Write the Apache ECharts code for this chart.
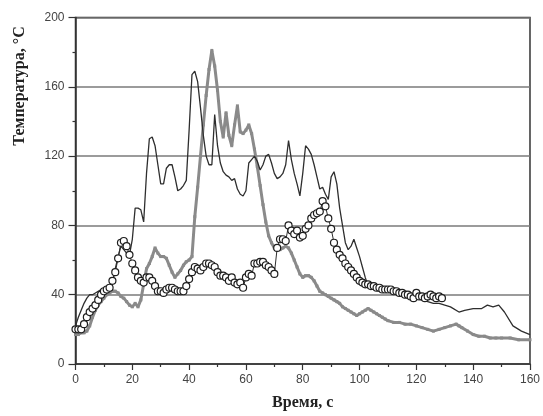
<!DOCTYPE html>
<html><head><meta charset="utf-8">
<script src="https://cdn.jsdelivr.net/npm/echarts@6/dist/echarts.min.js"></script>
<style>html,body{margin:0;padding:0;background:#fff}#c{width:543px;height:416px}</style>
</head><body><div id="c"></div>
<script>
// X tick labels and Y tick labels
const xTicks = [0,20,40,60,80,100,120,140,160];
const yTicks = [0,40,80,120,160,200];

// Series 1: thin black line
const blackT = [0,1,2,3,4,5,6,7,8,9,10,11,12,13,14,15,16,17,18,19,20,21,22,23,24,25,26,27,28,29,30,31,32,33,34,35,36,37,38,39,40,41,42,43,44,45,46,47,48,49,50,51,52,53,54,55,56,57,58,59,60,61,62,63,64,65,66,67,68,69,70,71,72,73,74,75,76,77,78,79,80,81,82,83,84,85,86,87,88,89,90,91,92,93,94,95,96,97,98,99,100,101,102,103,104,105,108,110,112,115,118,120,122,124,126,128,130,132,135,137,140,143,145,147,149,151,154,157,160];
const blackV = [22,27,31,35,38,40,40,41,42,43,43,44,44,47,55,62,68,66,64,63,72,90,90,89,82,110,130,131,126,115,104,104,113,115,115,108,100,101,103,106,135,167,169,163,148,132,120,115,115,144,126,116,111,109,108,106,107,101,98,97,100,116,118,120,117,112,115,120,121,116,110,107,108,110,115,129,118,110,104,97,110,126,124,121,115,108,101,102,98,95,108,111,104,90,80,70,66,68,72,67,62,56,50,45,44,44,43,43,42,41,39,38,37,36,35,35,34,33,30,31,32,32,34,33,34,30,22,19,17];

// Series 2: thick grey line
const greyT = [0,1,2,3,4,5,6,7,8,9,10,11,12,13,14,15,16,17,18,19,20,21,22,23,24,25,26,27,28,29,30,31,32,33,34,35,36,37,38,39,40,41,42,43,44,45,46,47,48,49,50,51,52,53,54,55,56,57,58,59,60,61,62,63,64,65,66,67,68,69,70,71,72,73,74,75,76,77,78,79,80,81,82,83,84,85,86,87,88,89,90,91,92,93,94,95,96,97,98,99,100,101,102,103,104,105,106,107,108,109,110,112,114,116,118,120,122,124,126,128,130,132,134,135,136,138,140,142,144,146,148,150,153,156,160];
const greyV = [17,17,18,18,19,22,27,31,34,36,38,40,41,42,42,41,39,38,36,34,33,35,33,37,46,55,58,62,67,64,62,62,61,57,53,50,52,54,57,59,60,62,85,102,120,138,155,170,181,172,158,140,131,145,132,126,138,149,134,133,135,138,133,124,114,103,92,82,74,70,67,67,66,67,68,67,64,60,56,52,50,51,51,50,48,45,42,41,40,39,38,37,36,35,33,32,31,30,29,28,29,30,31,32,31,30,29,28,27,26,25,24,24,23,23,22,21,20,19,20,21,22,23,22,21,19,17,16,16,15,15,15,15,14,14];

// Series 3: open circles
const circT = [0,1,2,3,4,5,6,7,8,9,10,11,12,13,14,15,16,17,18,19,20,21,22,23,24,25,26,27,28,29,30,31,32,33,34,35,36,37,38,39,40,41,42,43,44,45,46,47,48,49,50,51,52,53,54,55,56,57,58,59,60,61,62,63,64,65,66,67,68,69,70,71,72,73,74,75,76,77,78,79,80,81,82,83,84,85,86,87,88,89,90,91,92,93,94,95,96,97,98,99,100,101,102,103,104,105,106,107,108,109,110,111,112,113,114,115,116,117,118,119,120,121,122,123,124,125,126,127,128,129];
const circV = [20,20,20,23,27,30,32,34,37,40,42,43,44,48,53,61,70,71,68,63,58,54,50,48,47,50,50,48,45,42,42,41,43,44,44,43,42,42,42,45,49,53,56,55,54,56,58,58,57,56,53,51,51,50,48,50,47,46,47,44,50,52,51,58,58,59,59,57,56,54,52,67,72,72,71,80,77,75,77,73,74,78,80,84,86,87,88,94,91,84,78,70,66,63,61,58,56,54,52,50,48,47,46,46,45,45,44,44,43,43,43,43,42,42,41,41,40,40,39,38,41,39,39,38,39,40,39,38,39,38];

const pairs = (t, v) => t.map((x, i) => [x, v[i]]);

const chart = echarts.init(document.getElementById('c'));
const labelFont = {fontFamily: 'Liberation Sans', fontSize: 12, color: '#444'};
chart.setOption({
  animation: false,
  backgroundColor: '#fff',
  grid: {left: 75.5, right: 13, top: 17.5, bottom: 47, show: true, borderColor: '#333', borderWidth: 1.5},
  xAxis: {
    type: 'value', min: xTicks[0], max: xTicks[xTicks.length - 1], interval: 20,
    name: 'Время, с', nameLocation: 'middle', nameGap: 31,
    nameTextStyle: {fontFamily: 'Liberation Serif', fontWeight: 'bold', fontSize: 16, color: '#222'},
    axisLine: {show: true, lineStyle: {color: '#333', width: 1.5}},
    axisTick: {show: true, length: 6, lineStyle: {color: '#333', width: 1.2}},
    minorTick: {show: true, splitNumber: 2, length: 3, lineStyle: {color: '#333', width: 1.2}},
    axisLabel: Object.assign({margin: 10}, labelFont),
    splitLine: {show: false}
  },
  yAxis: {
    type: 'value', min: yTicks[0], max: yTicks[yTicks.length - 1], interval: 40,
    axisLine: {show: true, lineStyle: {color: '#333', width: 1.5}},
    axisTick: {show: true, length: 7, lineStyle: {color: '#333', width: 1.2}},
    minorTick: {show: true, splitNumber: 2, length: 3, lineStyle: {color: '#333', width: 1.2}},
    axisLabel: Object.assign({margin: 11}, labelFont),
    splitLine: {show: true, lineStyle: {color: '#7a7a7a', width: 1.5}}
  },
  graphic: [{
    type: 'text', x: 20, y: 86, rotation: Math.PI / 2,
    style: {text: 'Температура, °C', textAlign: 'center', textVerticalAlign: 'middle',
      font: 'bold 16px "Liberation Serif"', fill: '#222'}
  }],
  series: [
    {type: 'line', data: pairs(greyT, greyV), showSymbol: true, symbol: 'rect', symbolSize: 3,
      itemStyle: {color: '#8a8a8a'}, lineStyle: {color: '#8a8a8a', width: 3}, z: 2},
    {type: 'line', data: pairs(blackT, blackV), showSymbol: false,
      lineStyle: {color: '#2e2e2e', width: 1.3}, z: 3},
    {type: 'line', data: pairs(circT, circV), showSymbol: true, symbol: 'circle', symbolSize: 7,
      itemStyle: {color: '#fff', borderColor: '#1e1e1e', borderWidth: 1.2},
      lineStyle: {color: '#2e2e2e', width: 1}, z: 4}
  ]
});
</script></body></html>
